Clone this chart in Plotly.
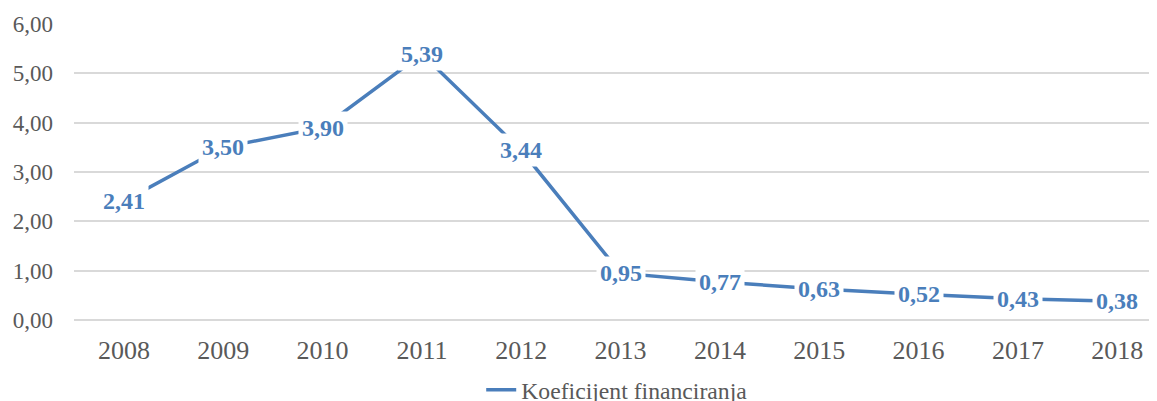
import plotly.graph_objects as go

years = ["2008", "2009", "2010", "2011", "2012", "2013", "2014", "2015", "2016", "2017", "2018"]
values = [2.41, 3.50, 3.90, 5.39, 3.44, 0.95, 0.77, 0.63, 0.52, 0.43, 0.38]
y_ticks = [0, 1, 2, 3, 4, 5, 6]
y_tick_text = ["0,00", "1,00", "2,00", "3,00", "4,00", "5,00", "6,00"]
series_name = "Koeficijent financiranja"

BLUE = "#4a7ebb"
GREY = "#595959"
FONT = "Liberation Serif"

idx = list(range(len(years)))

fig = go.Figure()
fig.add_trace(go.Scatter(
    x=idx, y=values, mode="lines", name=series_name,
    line=dict(color=BLUE, width=3.5), showlegend=True,
))

for i, v in zip(idx, values):
    fig.add_annotation(
        x=i, y=v, xref="x", yref="y",
        text="<b>" + f"{v:.2f}".replace(".", ",") + "</b>",
        showarrow=False, bgcolor="white", borderpad=3,
        font=dict(family=FONT, size=24, color=BLUE),
    )

# page body has an 8px margin, so the figure is 8px smaller and offsets reduced
fig.update_layout(
    width=1149, height=393,
    margin=dict(l=66, r=0, t=15.5, b=81, autoexpand=False),
    paper_bgcolor="white", plot_bgcolor="white",
    font=dict(family=FONT, size=23, color=GREY),
    showlegend=True,
    legend=dict(
        orientation="h", x=0.376, xanchor="left", y=-0.162, yanchor="top",
        font=dict(family=FONT, size=23.7, color=GREY),
        bgcolor="rgba(0,0,0,0)", itemwidth=30,
    ),
    xaxis=dict(
        range=[-0.503, 10.40], tickvals=idx, ticktext=years,
        showgrid=False, zeroline=False, showline=False,
        tickfont=dict(family=FONT, size=26, color=GREY),
        ticks="", ticklabelstandoff=12,
    ),
    yaxis=dict(
        range=[0, 6], tickvals=y_ticks, ticktext=y_tick_text,
        showgrid=True, gridcolor="#d9d9d9", gridwidth=1.5,
        zeroline=True, zerolinecolor="#d9d9d9", zerolinewidth=1.5,
        showline=False, ticks="", ticklabelstandoff=20,
        tickfont=dict(family=FONT, size=23, color=GREY),
    ),
)

fig.write_html("out.html")
